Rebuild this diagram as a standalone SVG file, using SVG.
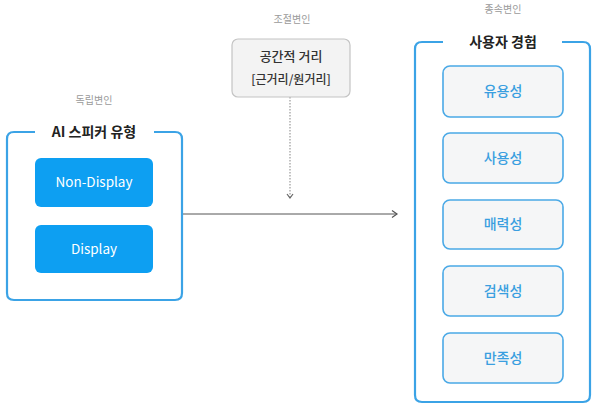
<svg xmlns="http://www.w3.org/2000/svg" width="594" height="409" viewBox="0 0 594 409">
<style>
.frame{fill:none;stroke:#3ba3e6;stroke-width:2.2}
.cap{font-family:"Noto Sans CJK KR","Noto Sans",sans-serif;font-size:10px;fill:#9a9a9a;text-anchor:middle}
.title{font-family:"Noto Sans CJK KR","Noto Sans",sans-serif;font-size:14px;font-weight:bold;fill:#222;text-anchor:middle}
.btn{fill:#0d9ff2}
.btnt{font-family:"Noto Sans CJK KR","Noto Sans",sans-serif;font-size:13.5px;fill:#fff;text-anchor:middle}
.item{fill:#f5f6f7;stroke:#4aa9e6;stroke-width:1.6}
.itemt{font-family:"Noto Sans CJK KR","Noto Sans",sans-serif;font-size:14px;font-weight:500;fill:#3a9fe0;text-anchor:middle}
.mod{fill:#f3f3f3;stroke:#c4c4c4;stroke-width:1.2}
.modt{font-family:"Noto Sans CJK KR","Noto Sans",sans-serif;font-size:13px;font-weight:500;fill:#333;text-anchor:middle}
</style>
<defs>
<marker id="chev" markerWidth="10" markerHeight="10" refX="8" refY="5" orient="auto" markerUnits="userSpaceOnUse">
<path d="M3,1.5 L8,5 L3,8.5" fill="none" stroke="#555" stroke-width="1.2"/>
</marker>
<marker id="chevg" markerWidth="10" markerHeight="10" refX="8" refY="5" orient="auto" markerUnits="userSpaceOnUse">
<path d="M4,2 L8,5 L4,8" fill="none" stroke="#666" stroke-width="1.2"/>
</marker>
</defs>
<rect width="594" height="409" fill="#fff"/>
<g id="connectors">
<line x1="182" y1="214" x2="397" y2="214" stroke="#555" stroke-width="1" marker-end="url(#chev)"/>
<line x1="290" y1="97" x2="290" y2="198" stroke="#999" stroke-width="1.2" stroke-dasharray="1.5,1.5" marker-end="url(#chevg)"/>
</g>
<g id="independent">
<text class="cap" x="94" y="104">독립변인</text>
<path class="frame" d="M35,132 H14 Q7,132 7,139 V293 Q7,300 14,300 H175 Q182,300 182,293 V139 Q182,132 175,132 H154"/>
<text class="title" x="94" y="137">AI 스피커 유형</text>
</g>
<g id="non-display">
<rect class="btn" x="35" y="158" width="118" height="49" rx="6"/>
<text class="btnt" x="94" y="187">Non-Display</text>
</g>
<g id="display">
<rect class="btn" x="35" y="225" width="118" height="48" rx="6"/>
<text class="btnt" x="94" y="254">Display</text>
</g>
<g id="moderator">
<text class="cap" x="292" y="23">조절변인</text>
<rect class="mod" x="232" y="39" width="118" height="58" rx="6"/>
<text class="modt" x="291" y="61">공간적 거리</text>
<text class="modt" x="291" y="84" style="font-size:12px">[근거리/원거리]</text>
</g>
<g id="dependent">
<text class="cap" x="503" y="13">종속변인</text>
<path class="frame" d="M443,42 H422 Q415,42 415,49 V395 Q415,402 422,402 H583 Q590,402 590,395 V49 Q590,42 583,42 H562"/>
<text class="title" x="503" y="47">사용자 경험</text>
</g>
<g id="usefulness">
<rect class="item" x="443" y="66" width="120" height="51" rx="7"/>
<text class="itemt" x="503" y="96">유용성</text>
</g>
<g id="usability">
<rect class="item" x="443" y="133" width="120" height="50" rx="7"/>
<text class="itemt" x="503" y="163">사용성</text>
</g>
<g id="attractiveness">
<rect class="item" x="443" y="200" width="120" height="49" rx="7"/>
<text class="itemt" x="503" y="229">매력성</text>
</g>
<g id="findability">
<rect class="item" x="443" y="266" width="120" height="50" rx="7"/>
<text class="itemt" x="503" y="296">검색성</text>
</g>
<g id="satisfaction">
<rect class="item" x="443" y="333" width="120" height="50" rx="7"/>
<text class="itemt" x="503" y="363">만족성</text>
</g>
</svg>
